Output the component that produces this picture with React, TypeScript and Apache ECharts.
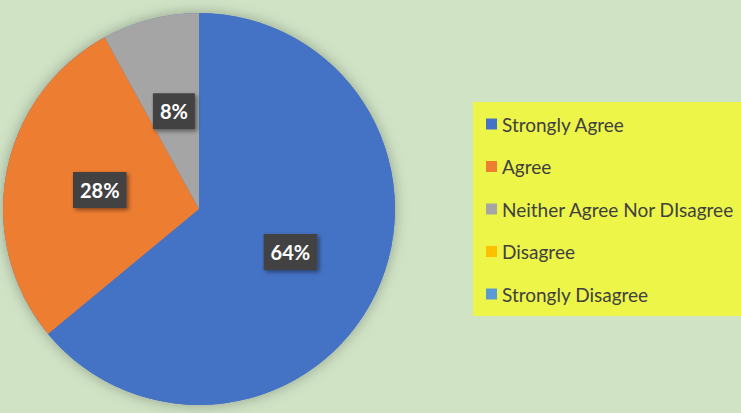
import React, { useEffect, useRef } from 'react';
import * as echarts from 'echarts';

const categories = ['Strongly Agree', 'Agree', 'Neither Agree Nor DIsagree', 'Disagree', 'Strongly Disagree'];
const values = [64, 28, 8, 0, 0];
const colors = ['#4472c4', '#ed7d31', '#a5a5a5', '#ffc000', '#5b9bd5'];

const CENTER: [number, number] = [199, 209];
const RADIUS = 196;

export default function App() {
  const ref = useRef<HTMLDivElement>(null);
  useEffect(() => {
    document.body.style.margin = '0';
    const chart = echarts.init(ref.current!, undefined, { renderer: 'svg' });
    const data = categories.map((name, i) => {
      const item: any = { name, value: values[i], itemStyle: { color: colors[i] } };
      if (values[i] === 0) item.label = { show: false };
      return item;
    });
    chart.setOption({
      animation: false,
      backgroundColor: '#d0e3c5',
      legend: {
        orient: 'vertical',
        left: 473,
        top: 102,
        data: categories,
        icon: 'rect',
        itemWidth: 11,
        itemHeight: 11,
        itemGap: 22.5,
        backgroundColor: '#edf549',
        padding: [12, 30, 12, 13],
        selectedMode: false,
        textStyle: { fontFamily: 'Lato', fontSize: 19, color: '#404040', lineHeight: 20 },
      },
      series: [
        {
          type: 'pie',
          silent: true,
          center: CENTER,
          radius: RADIUS,
          z: 1,
          label: { show: false },
          labelLine: { show: false },
          itemStyle: { color: '#4472c4', shadowBlur: 14, shadowColor: 'rgba(0,0,0,0.3)' },
          data: [{ value: 1, name: '__bg' }],
          legendHoverLink: false,
        },
        {
          type: 'pie',
          z: 2,
          center: CENTER,
          radius: RADIUS,
          startAngle: 90,
          clockwise: true,
          silent: true,
          label: {
            show: true,
            position: 'inside',
            formatter: (p: any) => `${Math.round(p.percent)}%`,
            color: '#ffffff',
            fontFamily: 'Lato',
            fontWeight: 'bold',
            fontSize: 20,
            backgroundColor: '#434343',
            padding: [9, 7, 7, 7],
            shadowColor: 'rgba(0,0,0,0.45)',
            shadowBlur: 4,
            shadowOffsetX: 2,
            shadowOffsetY: 2,
          },
          labelLine: { show: false },
          data,
        },
      ],
    });
    return () => chart.dispose();
  }, []);
  return <div ref={ref} style={{ position: 'fixed', left: 0, top: 0, width: 741, height: 413 }} />;
}
